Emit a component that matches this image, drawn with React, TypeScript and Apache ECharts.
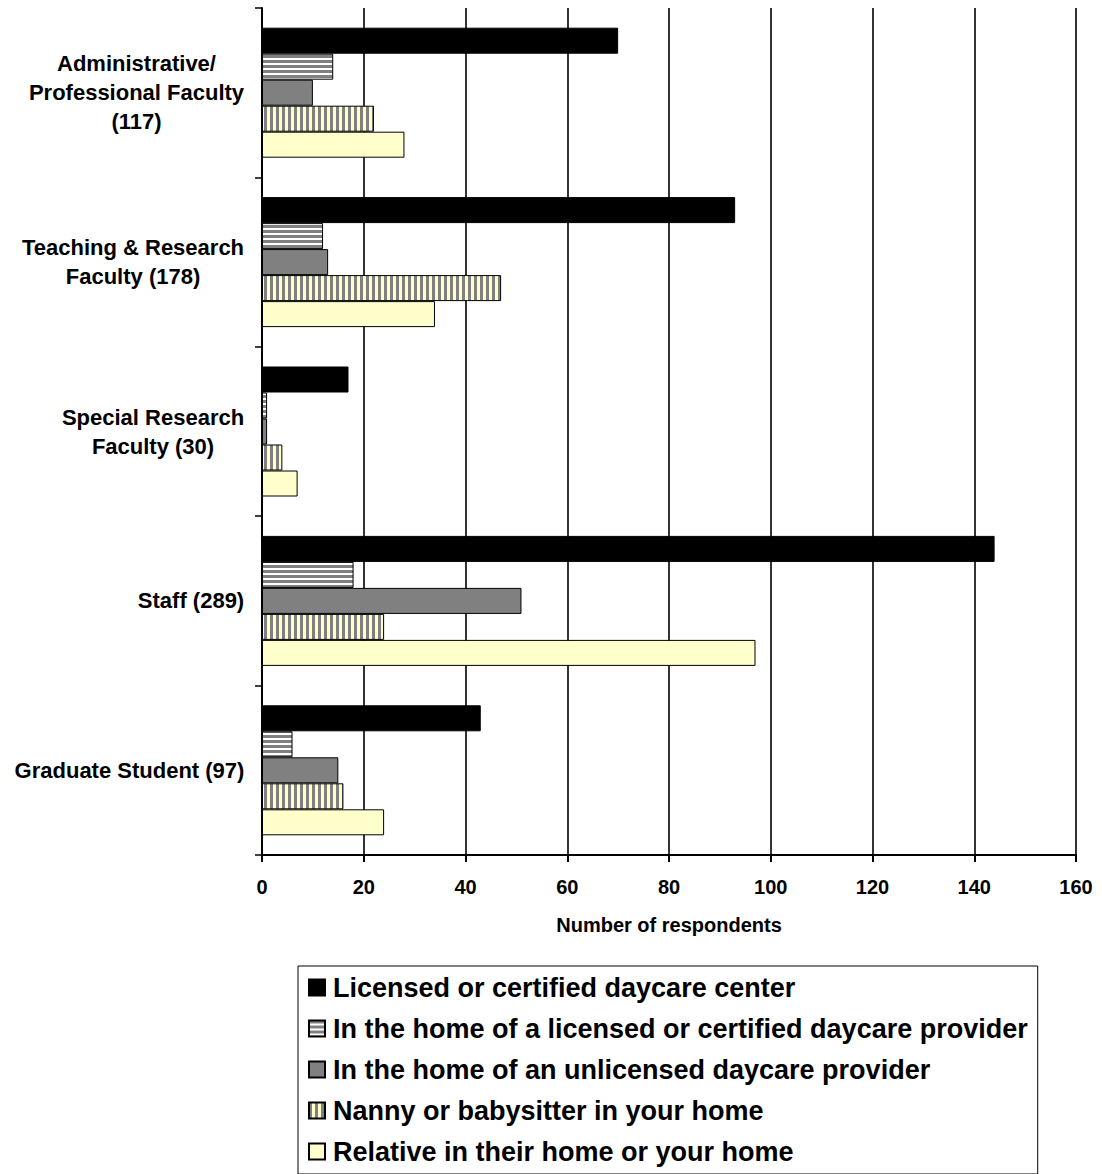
import React, { useEffect, useRef } from "react";
import * as echarts from "echarts";

// Respondent groups (top to bottom)
const categories: string[] = [
  "Administrative/\nProfessional Faculty\n(117)",
  "Teaching & Research\nFaculty (178)",
  "Special Research\nFaculty (30)",
  "Staff (289)",
  "Graduate Student (97)",
];

// Childcare arrangement names
const seriesNames: string[] = [
  "Licensed or certified daycare center",
  "In the home of a licensed or certified daycare provider",
  "In the home of an unlicensed daycare provider",
  "Nanny or babysitter in your home",
  "Relative in their home or your home",
];

// Number of respondents per group, one array per arrangement
const licensedCenter: number[] = [70, 93, 17, 144, 43];
const licensedHome: number[] = [14, 12, 1, 18, 6];
const unlicensedHome: number[] = [10, 13, 1, 51, 15];
const nannyAtHome: number[] = [22, 47, 4, 24, 16];
const relativeCare: number[] = [28, 34, 7, 97, 24];

// X-axis scale
const xMin = 0;
const xMax = 160;
const xStep = 20;

const FONT = 'Arial, "Liberation Sans", Helvetica, sans-serif';

function stripePattern(horizontal: boolean, bg: string, fg: string, period: number, lineW: number) {
  const c = document.createElement("canvas");
  c.width = horizontal ? 4 : period;
  c.height = horizontal ? period : 4;
  const ctx = c.getContext("2d")!;
  ctx.fillStyle = bg;
  ctx.fillRect(0, 0, c.width, c.height);
  ctx.fillStyle = fg;
  if (horizontal) ctx.fillRect(0, 0, c.width, lineW);
  else ctx.fillRect(0, 0, lineW, c.height);
  return {
    image: c.toDataURL("image/png"),
    repeat: "repeat",
    imageWidth: c.width,
    imageHeight: c.height,
  } as any;
}

function measure(text: string, font: string): number {
  const c = document.createElement("canvas");
  const ctx = c.getContext("2d")!;
  ctx.font = font;
  return ctx.measureText(text).width;
}

export default function App() {
  const ref = useRef<HTMLDivElement>(null);

  useEffect(() => {
    document.body.style.margin = "0";
    if (!ref.current) return;
    const chart = echarts.init(ref.current, undefined, { renderer: "svg" });

    const labelSize = 22;
    const rich: Record<string, any> = {};
    categories.forEach((cat, i) => {
      const w = Math.max(
        ...cat.split("\n").map((l) => measure(l, `bold ${labelSize}px ${FONT}`))
      );
      rich["r" + i] = {
        width: Math.ceil(w) + 1,
        align: "center",
        fontSize: labelSize,
        fontWeight: "bold",
        fontFamily: FONT,
        lineHeight: 29,
        color: "#000",
      };
    });

    const fills = [
      "#000000",
      stripePattern(true, "#ffffff", "#808080", 5, 3),
      "#808080",
      stripePattern(false, "#ffffcc", "#808080", 6, 3),
      "#ffffcc",
    ];
    const values = [licensedCenter, licensedHome, unlicensedHome, nannyAtHome, relativeCare];

    chart.setOption({
      animation: false,
      backgroundColor: "#ffffff",
      textStyle: { fontFamily: FONT },
      grid: { left: 262, right: 26, top: 8, bottom: 319, containLabel: false },
      legend: {
        orient: "vertical",
        left: 298,
        top: 966,
        padding: [8, 10, 9, 10],
        itemWidth: 16,
        itemHeight: 16,
        itemGap: 14,
        icon: "rect",
        borderColor: "#000",
        borderWidth: 1,
        data: seriesNames,
        textStyle: {
          fontSize: 27,
          fontWeight: "bold",
          fontFamily: FONT,
          color: "#000",
          padding: [0, 0, 0, 3],
        },
      },
      xAxis: {
        type: "value",
        min: xMin,
        max: xMax,
        interval: xStep,
        name: "Number of respondents",
        nameLocation: "middle",
        nameGap: 60,
        nameTextStyle: { fontSize: 20, fontWeight: "bold", color: "#000", fontFamily: FONT },
        axisLine: { show: true, lineStyle: { color: "#000", width: 2 } },
        axisTick: { show: true, length: 7, lineStyle: { color: "#000", width: 2 } },
        axisLabel: { fontSize: 20, fontWeight: "bold", color: "#000", margin: 22, fontFamily: FONT },
        splitLine: { show: true, lineStyle: { color: "#000", width: 1.6 } },
      },
      yAxis: {
        type: "category",
        inverse: true,
        data: categories,
        axisLine: { show: true, lineStyle: { color: "#000", width: 2 } },
        axisTick: { show: true, length: 7, lineStyle: { color: "#000", width: 1.5 } },
        axisLabel: {
          margin: 17,
          formatter: (value: string, index: number) =>
            value
              .split("\n")
              .map((l) => `{r${index}|${l}}`)
              .join("\n"),
          rich,
        },
        splitLine: { show: false },
      },
      series: seriesNames.map((name, i) => ({
        name,
        type: "bar",
        barWidth: 26,
        barGap: "0%",
        data: values[i],
        itemStyle: { color: fills[i], borderColor: "#000", borderWidth: 1 },
      })),
    });

    return () => chart.dispose();
  }, []);

  return <div ref={ref} style={{ width: 1102, height: 1174 }} />;
}
